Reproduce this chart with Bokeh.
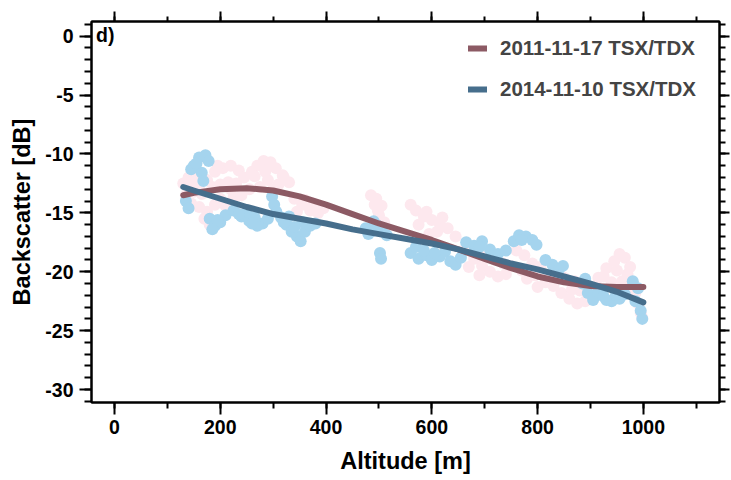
from bokeh.plotting import figure
from bokeh.models import (Range1d, LinearAxis, SingleIntervalTicker, Legend, LegendItem, Label,
                          CustomLabelingPolicy)
from bokeh.embed import file_html
from bokeh.resources import INLINE

# ---- data ----
series_names = ["2011-11-17 TSX/TDX", "2014-11-10 TSX/TDX"]

fit_alt = [130, 150, 200, 250, 300, 350, 400, 450, 500, 550, 600, 650, 700, 750, 800, 850, 900, 950, 1000]
fit_2011 = [-13.5, -13.3, -13.0, -12.9, -13.1, -13.6, -14.3, -15.1, -15.9, -16.6, -17.3, -18.1, -18.9, -19.7,
            -20.4, -20.9, -21.2, -21.3, -21.3]
fit_2014 = [-12.8, -13.1, -13.8, -14.5, -15.1, -15.5, -15.9, -16.4, -16.8, -17.2, -17.6, -18.1, -18.7, -19.3,
            -19.8, -20.4, -21.0, -21.7, -22.6]

pts_2011_alt = [130, 140, 150, 160, 175, 190, 205, 220, 235, 245, 135, 145, 160, 175, 190, 200, 210, 220, 170, 180,
                195, 150, 185, 200, 215, 165, 140, 155, 230, 225,
                260, 270, 282, 295, 305, 318, 330, 290, 275, 255, 310, 240, 265, 300, 285, 320,
                340, 355, 370, 385, 345, 395, 360, 375,
                485, 495, 505, 500, 510, 490, 498, 492,
                560, 570, 585, 600, 615, 630, 575, 595, 610, 590, 620,
                645, 660, 680, 695, 710, 725, 740, 700, 720, 750, 670, 690, 735,
                760, 775, 790, 805, 820, 780, 800, 815, 770, 795,
                830, 845, 860, 875, 890, 900, 850, 870, 840, 880, 865,
                915, 930, 945, 955, 965, 975, 960, 940, 925, 950, 970,
                985, 990, 995, 998, 980]
pts_2011_db = [-12.5, -12.0, -12.4, -12.8, -12.2, -11.5, -11.2, -11.0, -11.4, -12.0, -13.5, -14.2, -14.5, -14.9, -14.3,
               -13.8, -14.4, -13.0, -15.5, -16.0, -11.0, -13.2, -12.8, -12.6, -12.4, -13.4, -13.0, -11.8, -12.5, -13.7,
               -11.5, -11.0, -10.6, -10.7, -11.2, -11.8, -12.4, -12.2, -12.8, -13.0, -12.6, -13.5, -11.9, -13.0,
               -11.5, -12.0,
               -13.8, -14.3, -14.8, -15.0, -14.9, -14.6, -13.9, -14.2,
               -13.5, -13.8, -14.4, -15.2, -15.8, -16.0, -14.8, -14.3,
               -14.3, -14.8, -15.3, -15.6, -15.9, -16.3, -16.0, -16.8, -16.6, -14.9, -15.4,
               -17.0, -18.2, -18.9, -19.5, -20.0, -20.4, -20.2, -18.6, -19.0, -19.5, -19.6, -20.3, -19.3,
               -18.2, -18.6, -19.3, -19.6, -20.4, -20.6, -21.3, -20.9, -19.9, -20.3,
               -21.2, -21.8, -22.3, -22.7, -22.5, -21.8, -20.5, -20.8, -20.2, -21.6, -21.5,
               -20.5, -19.7, -19.1, -18.5, -18.8, -19.6, -20.8, -20.9, -20.4, -19.9, -20.2,
               -21.8, -22.7, -23.5, -23.9, -21.0]

pts_2014_alt = [150, 160, 172, 178, 145, 165, 168, 155,
                135, 140,
                180, 190, 200, 210, 185, 195,
                225, 240, 255, 265, 280, 290, 270, 250, 235, 260,
                298, 302, 306,
                315, 325, 335, 345, 352, 360, 370, 380, 330, 355, 340, 320,
                475, 485, 495, 505, 515, 490, 480,
                502, 504,
                560, 575, 590, 600, 615, 625, 635, 645, 655, 570, 605, 585,
                665, 680, 695, 710, 725, 740, 690,
                755, 765, 778, 790, 798, 770,
                815, 828, 840, 848,
                885, 895, 905, 915, 925, 940, 955, 965, 890, 930, 948,
                985, 995, 998, 990, 980]
pts_2014_db = [-11.0, -10.3, -10.1, -10.6, -11.3, -11.6, -12.3, -10.8,
               -14.0, -14.6,
               -15.5, -16.1, -15.8, -15.2, -16.4, -15.6,
               -14.8, -15.3, -15.7, -15.4, -15.9, -15.5, -16.1, -14.9, -15.1, -15.9,
               -13.6, -14.3, -14.9,
               -15.4, -16.0, -16.6, -17.0, -17.4, -16.6, -16.1, -15.9, -15.3, -15.8, -16.2, -15.8,
               -16.3, -16.6, -16.0, -16.4, -16.9, -15.7, -16.8,
               -18.4, -18.9,
               -18.4, -18.9, -18.6, -19.0, -18.7, -18.3, -19.1, -19.4, -18.8, -17.9, -18.4, -18.2,
               -17.5, -17.8, -17.4, -18.1, -18.5, -18.2, -17.9,
               -17.4, -16.9, -17.0, -17.3, -17.7, -17.3,
               -19.0, -19.4, -19.8, -19.5,
               -21.0, -21.8, -22.4, -21.7, -22.1, -22.5, -22.3, -21.9, -20.6, -22.4, -22.0,
               -22.5, -23.3, -24.0, -21.4, -20.8]

x_ticks_interval = 200
y_ticks_interval = 5
y_tick_values = [0, -5, -10, -15, -20, -25, -30]
y_tick_labels = ["0", "-5", "-10", "-15", "-20", "-25", "-30"]

# ---- styling ----
C_2011 = "#8c5a64"
C_2014 = "#466e8c"
C_2011_PTS = "#fde8ee"
C_2014_PTS = "#a5d4ee"
FONT = "Liberation Sans"

p = figure(frame_width=628, frame_height=381, output_backend="svg", toolbar_location=None,
           x_range=Range1d(-43.5, 1144), y_range=Range1d(-31.1, 1.25),
           min_border_left=91, min_border_right=12, min_border_top=21, min_border_bottom=78,
           x_axis_label="Altitude [m]", y_axis_label="Backscatter [dB]")
p.xgrid.visible = False
p.ygrid.visible = False
p.outline_line_color = "black"
p.outline_line_width = 2
p.background_fill_color = "white"
p.border_fill_color = "white"

p.scatter(pts_2011_alt, pts_2011_db, size=12, fill_color=C_2011_PTS, line_color=None)
p.scatter(pts_2014_alt, pts_2014_db, size=12, fill_color=C_2014_PTS, line_color=None)

r1 = p.line(fit_alt, fit_2011, line_color=C_2011, line_width=6, line_cap="round", line_join="round")
r2 = p.line(fit_alt, fit_2014, line_color=C_2014, line_width=6, line_cap="round", line_join="round")


def style_axis(ax):
    ax.axis_line_width = 2
    ax.major_tick_line_width = 2
    ax.minor_tick_line_width = 2
    ax.major_tick_in = 0
    ax.minor_tick_in = 0
    ax.major_label_text_font = FONT
    ax.major_label_text_font_style = "bold"
    ax.major_label_text_font_size = "19.5px"
    ax.major_label_text_color = "black"
    ax.axis_label_text_font = FONT
    ax.axis_label_text_font_style = "bold"
    ax.axis_label_text_font_size = "23.5px"
    ax.axis_label_text_color = "black"


def tick_only(ax):
    style_axis(ax)
    ax.major_label_policy = CustomLabelingPolicy(code="return new Set()")
    ax.major_label_text_font_size = "1px"
    ax.major_label_standoff = 0
    ax.axis_label_standoff = 0


xa = p.xaxis[0]
xa.ticker = SingleIntervalTicker(interval=x_ticks_interval, num_minor_ticks=2)
style_axis(xa)
xa.major_tick_out = 12
xa.minor_tick_out = 6
xa.major_label_standoff = 5
xa.axis_label_standoff = 11

ya = p.yaxis[0]
ya.ticker = SingleIntervalTicker(interval=y_ticks_interval, num_minor_ticks=5)
style_axis(ya)
ya.major_tick_out = 12
ya.minor_tick_out = 7
ya.major_label_standoff = 6
ya.axis_label_standoff = 7
ya.major_label_overrides = {v: s for v, s in zip(y_tick_values, y_tick_labels)}

top = LinearAxis(ticker=SingleIntervalTicker(interval=x_ticks_interval, num_minor_ticks=2))
tick_only(top)
top.major_tick_out = 10
top.minor_tick_out = 5
p.add_layout(top, "above")

right = LinearAxis(ticker=SingleIntervalTicker(interval=y_ticks_interval, num_minor_ticks=5))
tick_only(right)
right.major_tick_out = 10
right.minor_tick_out = 6
p.add_layout(right, "right")

legend = Legend(items=[LegendItem(label=series_names[0], renderers=[r1]),
                       LegendItem(label=series_names[1], renderers=[r2])],
                location=(377, 301), padding=0, margin=0, spacing=17,
                glyph_width=19, glyph_height=20, label_height=20, label_standoff=13,
                label_text_font=FONT, label_text_font_style="bold", label_text_font_size="20.5px",
                border_line_alpha=0, background_fill_alpha=0)
p.add_layout(legend, "center")

p.add_layout(Label(x=-35, y=1.0, text="d)", text_font=FONT, text_font_style="bold",
                   text_font_size="19.5px", text_baseline="top", text_color="black"))

open("out.html", "w").write(file_html(p, INLINE))
